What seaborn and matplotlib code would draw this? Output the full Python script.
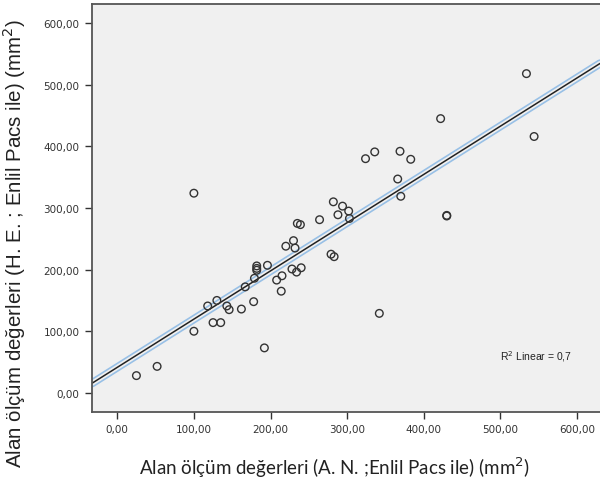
import matplotlib
matplotlib.use("Agg")
import matplotlib.pyplot as plt
import seaborn as sns
import numpy as np
import pandas as pd

# A.N. olcumleri (x) ve H.E. olcumleri (y), mm2
an_vals = [25, 52, 100, 100, 118, 125, 130, 135, 143, 146,
           162, 167, 178, 179, 182, 182, 182, 192, 196, 208,
           214, 215, 220, 228, 230, 232, 234, 235, 239, 240,
           264, 279, 283, 282, 288, 294, 302, 303, 324, 336,
           342, 366, 369, 370, 383, 422, 430, 430, 534, 544]
he_vals = [28, 43, 100, 324, 141, 114, 150, 114, 141, 135,
           136, 172, 148, 186, 206, 202, 199, 73, 207, 183,
           165, 190, 238, 201, 247, 235, 196, 275, 273, 203,
           281, 225, 221, 310, 289, 303, 295, 283, 380, 391,
           129, 347, 392, 319, 379, 445, 288, 287, 518, 416]
tick_vals = [0, 100, 200, 300, 400, 500, 600]

df = pd.DataFrame({"AN": an_vals, "HE": he_vals})

sns.set_style("ticks")
bg = "#f0f0f0"

fig = plt.figure(figsize=(6, 4.85), dpi=100)
ax = fig.add_axes([0.1533, 0.1485, 0.8467, 0.8412])
ax.set_facecolor(bg)
ax.set_xlim(-33, 630)
ax.set_ylim(-31, 631)

# cizgi: mavi kenar, arada zemin rengi, ortada ince siyah
sns.regplot(data=df, x="AN", y="HE", ax=ax, ci=None, truncate=False, scatter=False,
            line_kws=dict(color="#98c0e6", lw=6, solid_capstyle="round"))
sns.regplot(data=df, x="AN", y="HE", ax=ax, ci=None, truncate=False, scatter=False,
            line_kws=dict(color=bg, lw=3.6, solid_capstyle="round"))
sns.regplot(data=df, x="AN", y="HE", ax=ax, ci=None, truncate=False, scatter=False,
            line_kws=dict(color="#222222", lw=1.1))
sns.scatterplot(data=df, x="AN", y="HE", ax=ax, s=30, facecolor="none",
                edgecolor="#333333", linewidth=1.0, zorder=3)

ax.set_xlim(-33, 630)
ax.set_ylim(-31, 631)

lbl = [("%.2f" % v).replace(".", ",") for v in tick_vals]
ax.set_xticks(tick_vals)
ax.set_xticklabels(lbl)
ax.set_yticks(tick_vals)
ax.set_yticklabels(lbl)
ax.tick_params(axis="both", labelsize=7.5, colors="#333333", length=5, width=1.0, direction="out", pad=4)

for s in ["left", "bottom", "top"]:
    ax.spines[s].set_color("#555555")
    ax.spines[s].set_linewidth(1.3)
ax.spines["right"].set_visible(False)

ax.text(500, 60, "R$^2$ Linear = 0,7", fontsize=7.5, color="#222222", va="center",
        family="Liberation Sans")

ax.set_xlabel("Alan ölçüm değerleri (A. N. ;Enlil Pacs ile) (mm$^2$)", fontsize=13.5,
              family="Lato", color="#222222")
ax.set_ylabel("Alan ölçüm değerleri (H. E. ; Enlil Pacs ile) (mm$^2$)", fontsize=14.8,
              family="Liberation Sans", color="#222222")
ax.xaxis.set_label_coords(0.478, -0.105)
ax.yaxis.set_label_coords(-0.125, 0.415)

plt.savefig("out.png", dpi=100)
